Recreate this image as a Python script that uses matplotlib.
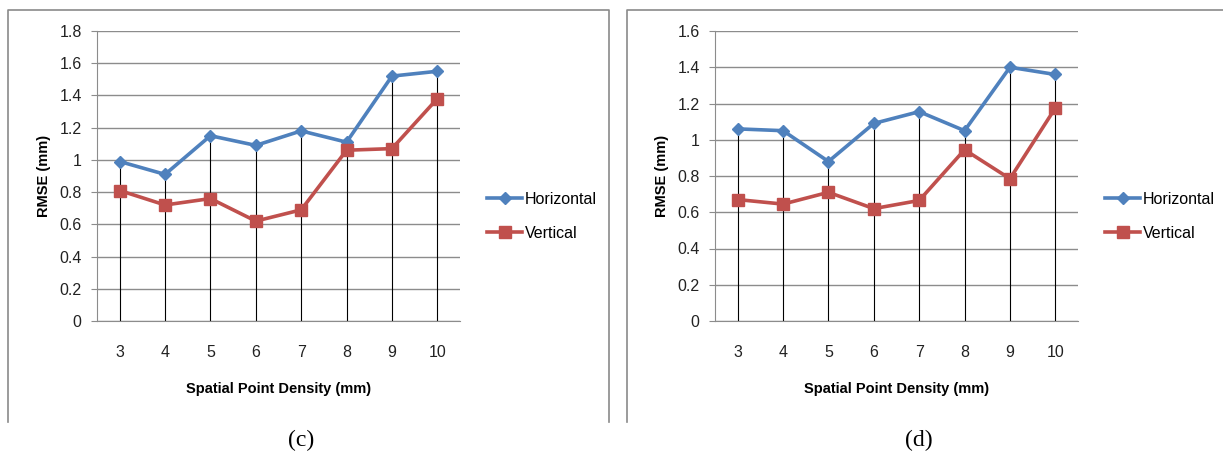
import matplotlib
matplotlib.use("Agg")
import matplotlib.pyplot as plt
from matplotlib import font_manager
from matplotlib.lines import Line2D

# category axis
densities = ["3", "4", "5", "6", "7", "8", "9", "10"]

# panel (c)
horiz_c = [0.99, 0.91, 1.15, 1.09, 1.18, 1.11, 1.52, 1.55]
vert_c = [0.81, 0.72, 0.76, 0.62, 0.69, 1.06, 1.07, 1.38]
yticks_c = [0, 0.2, 0.4, 0.6, 0.8, 1.0, 1.2, 1.4, 1.6, 1.8]

# panel (d)
horiz_d = [1.06, 1.05, 0.88, 1.09, 1.155, 1.05, 1.40, 1.36]
vert_d = [0.67, 0.645, 0.71, 0.62, 0.665, 0.945, 0.785, 1.175]
yticks_d = [0, 0.2, 0.4, 0.6, 0.8, 1.0, 1.2, 1.4, 1.6]

BLUE = "#4F81BD"
RED = "#C0504D"
GRID = "#8c8c8c"

names = {f.name for f in font_manager.fontManager.ttflist}
SANS = "Liberation Sans Narrow" if "Liberation Sans Narrow" in names else "Liberation Sans"
plt.rcParams["font.family"] = [SANS, "DejaVu Sans"]

W, H = 1223, 459
fig = plt.figure(figsize=(W / 100, H / 100), dpi=100, facecolor="white")


def px(x, y):
    return x / W, 1 - y / H


def fmt(v):
    return "0" if v == 0 else ("1" if v == 1 else f"{v:g}")


def draw_panel(x0, x1, horiz, vert, yticks, leg_x):
    l, b = px(x0, 321)
    r, t = px(x1, 31)
    ax = fig.add_axes([l, b, r - l, t - b])
    xs = list(range(len(densities)))
    ax.set_xlim(-0.5, len(densities) - 0.5)
    ax.set_ylim(0, yticks[-1])
    ax.set_yticks(yticks)
    ax.set_yticklabels([fmt(v) for v in yticks])
    ax.set_xticks(xs)
    ax.set_xticklabels(densities)
    ax.yaxis.grid(True, color=GRID, lw=1.0)
    ax.set_axisbelow(True)
    for s in ["top", "right"]:
        ax.spines[s].set_visible(False)
    ax.spines["left"].set_color(GRID)
    ax.spines["bottom"].set_color(GRID)
    ax.tick_params(axis="y", length=4, color=GRID, labelsize=11.5, pad=7,
                   labelcolor="#222222")
    ax.tick_params(axis="x", length=0, labelsize=11.5, pad=17,
                   labelcolor="#222222")
    # drop lines from the upper series to the axis
    top = [max(h, v) for h, v in zip(horiz, vert)]
    ax.vlines(xs, 0, top, color="black", lw=0.8, zorder=2)
    ax.plot(xs, horiz, color=BLUE, lw=2.6, marker="D", ms=6.5,
            label="Horizontal", zorder=3)
    ax.plot(xs, vert, color=RED, lw=2.6, marker="s", ms=9,
            label="Vertical", zorder=3)
    ax.set_xlabel("Spatial Point Density (mm)", fontsize=10.5, fontweight="bold",
                  labelpad=16)
    ax.set_ylabel("RMSE (mm)", fontsize=10.5, fontweight="bold", labelpad=6)
    lx, ly = px(leg_x, 216.5)
    ax.legend(loc="center left", bbox_to_anchor=(lx, ly),
              bbox_transform=fig.transFigure, frameon=False, fontsize=11.5,
              handlelength=2.2, handletextpad=0.15, labelspacing=1.2,
              borderaxespad=0, borderpad=0)
    return ax


draw_panel(97, 460, horiz_c, vert_c, yticks_c, 487)
draw_panel(715, 1078, horiz_d, vert_d, yticks_d, 1105)

# panel frames (open at the bottom)
frame_kw = dict(color="#8a8a8a", lw=1.2, transform=fig.transFigure)
for pts in ([(8, 422), (8, 10), (609, 10), (609, 422)],
            [(627, 422), (627, 10), (1223, 10)]):
    xx = [px(x, y)[0] for x, y in pts]
    yy = [px(x, y)[1] for x, y in pts]
    fig.add_artist(Line2D(xx, yy, **frame_kw))

cx, cy = px(301, 440)
fig.text(cx, cy, "(c)", ha="center", va="center", fontsize=17,
         family=["Liberation Serif", "DejaVu Serif"])
dx, dy = px(919, 440)
fig.text(dx, dy, "(d)", ha="center", va="center", fontsize=17,
         family=["Liberation Serif", "DejaVu Serif"])

fig.savefig("out.png", dpi=100, facecolor="white")
